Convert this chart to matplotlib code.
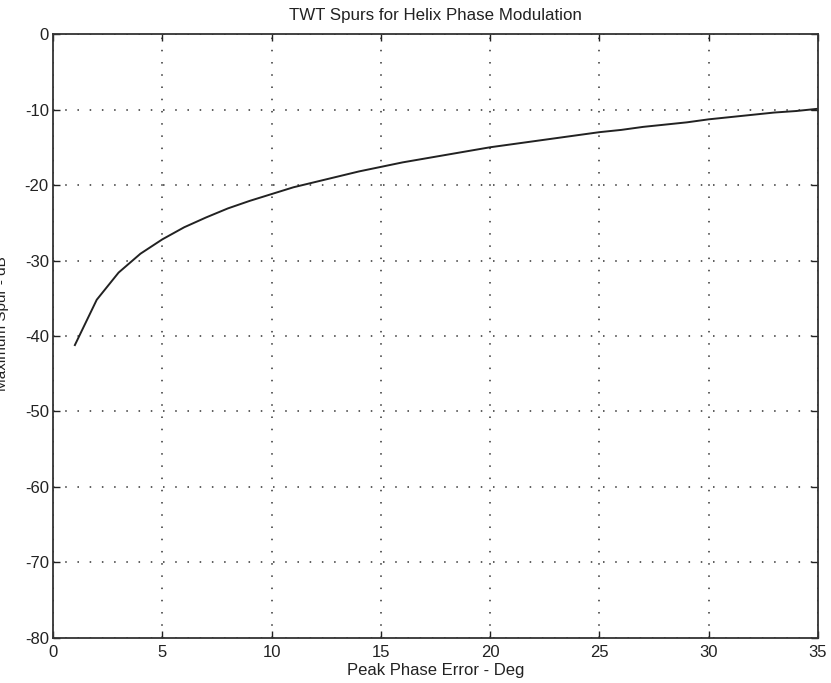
import matplotlib
matplotlib.use("Agg")
import matplotlib.pyplot as plt

plt.rcParams["font.family"] = ["Liberation Sans", "DejaVu Sans"]
plt.rcParams["axes.unicode_minus"] = False

# peak phase error (deg) and the worst spur level (dB)
phase_err = [1, 2, 3, 4, 5, 6, 7, 8, 9, 10,
             11, 12, 13, 14, 15, 16, 17, 18, 19, 20,
             21, 22, 23, 24, 25, 26, 27, 28, 29, 30,
             31, 32, 33, 34, 35]
max_spur = [-41.2, -35.2, -31.6, -29.1, -27.2, -25.6, -24.3, -23.1, -22.1, -21.2,
            -20.3, -19.6, -18.9, -18.2, -17.6, -17.0, -16.5, -16.0, -15.5, -15.0,
            -14.6, -14.2, -13.8, -13.4, -13.0, -12.7, -12.3, -12.0, -11.7, -11.3,
            -11.0, -10.7, -10.4, -10.2, -9.9]

x_ticks = [0, 5, 10, 15, 20, 25, 30, 35]
y_ticks = [-80, -70, -60, -50, -40, -30, -20, -10, 0]

fig = plt.figure(figsize=(8.31, 6.83), dpi=100)
ax = fig.add_axes([0.0638, 0.0659, 0.9206, 0.8843])

ax.plot(phase_err, max_spur, color="#222222", lw=1.4)

ax.set_xlim(0, 35)
ax.set_ylim(-80, 0)
ax.set_xticks(x_ticks)
ax.set_yticks(y_ticks)
ax.tick_params(direction="in", top=True, right=True, length=5, width=1,
               labelsize=12, colors="#222222")
ax.tick_params(axis="x", pad=5)
ax.tick_params(axis="y", pad=3)

ax.grid(True, color="#333333", linestyle=(0, (1, 7)), linewidth=1.1)

for s in ax.spines.values():
    s.set_linewidth(1.3)
    s.set_color("#333333")

ax.set_title("TWT Spurs for Helix Phase Modulation", fontsize=12.2,
             color="#222222", pad=10)
ax.set_xlabel("Peak Phase Error - Deg", fontsize=12, color="#222222", labelpad=2)
# label sits mostly past the left edge of the figure
ax.set_ylabel("Maximum Spur - dB", fontsize=11, color="#222222")
ax.yaxis.set_label_coords(-0.058, 0.52)

fig.savefig("out.png", dpi=100)
